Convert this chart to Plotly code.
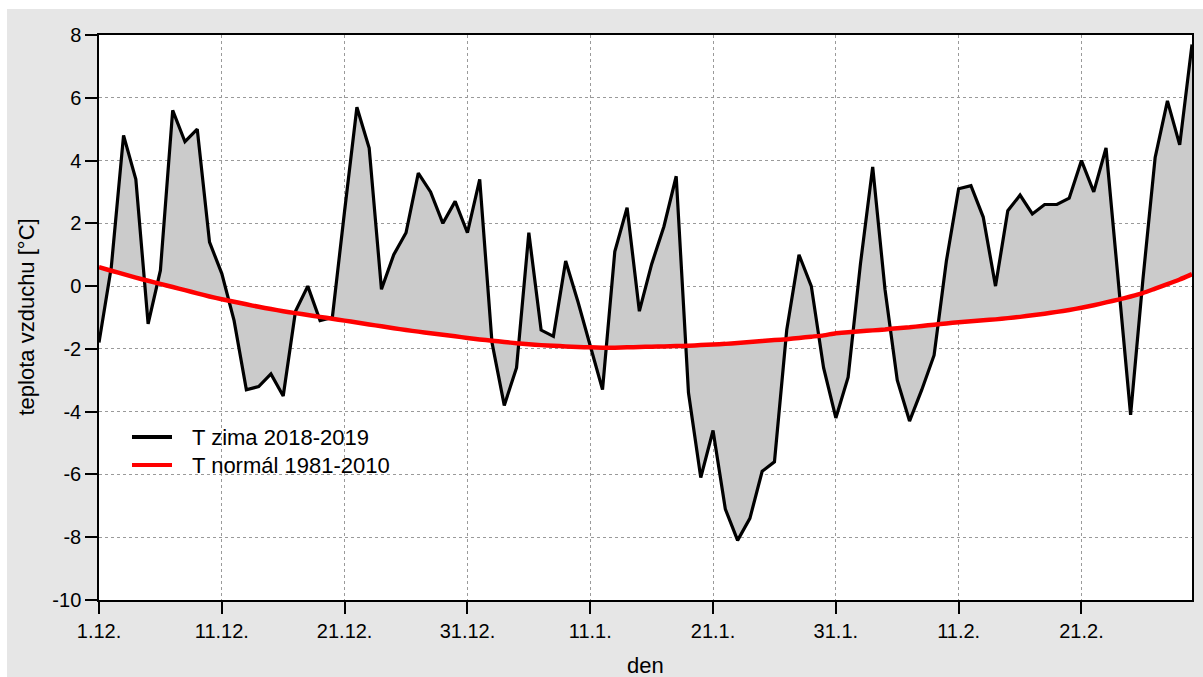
import plotly.graph_objects as go

# day index (1 = 1.12.2018 ... 90 = 28.2.2019)
days = list(range(1, 91))

t_winter = [
    -1.8, 0.6, 4.8, 3.4, -1.2, 0.5, 5.6, 4.6, 5.0, 1.4,
    0.4, -1.1, -3.3, -3.2, -2.8, -3.5, -0.8, 0.0, -1.1, -1.0,
    2.4, 5.7, 4.4, -0.1, 1.0, 1.7, 3.6, 3.0, 2.0, 2.7,
    1.7, 3.4, -1.8, -3.8, -2.6, 1.7, -1.4, -1.6, 0.8, -0.5,
    -1.9, -3.3, 1.1, 2.5, -0.8, 0.7, 1.9, 3.5, -3.4, -6.1,
    -4.6, -7.1, -8.1, -7.4, -5.9, -5.6, -1.4, 1.0, 0.0, -2.6,
    -4.2, -2.9, 0.7, 3.8, -0.1, -3.0, -4.3, -3.3, -2.2, 0.8,
    3.1, 3.2, 2.2, 0.0, 2.4, 2.9, 2.3, 2.6, 2.6, 2.8,
    4.0, 3.0, 4.4, 0.1, -4.1, 0.2, 4.1, 5.9, 4.5, 7.7,
]

t_normal = [
    0.60, 0.49, 0.38, 0.27, 0.17, 0.07, -0.03, -0.13, -0.23, -0.33,
    -0.42, -0.50, -0.58, -0.66, -0.73, -0.80, -0.86, -0.92, -0.98, -1.04,
    -1.10, -1.16, -1.22, -1.28, -1.34, -1.40, -1.45, -1.50, -1.55, -1.60,
    -1.65, -1.70, -1.74, -1.78, -1.82, -1.85, -1.88, -1.90, -1.92, -1.94,
    -1.95, -1.96, -1.96, -1.95, -1.94, -1.93, -1.92, -1.91, -1.90, -1.88,
    -1.86, -1.84, -1.81, -1.78, -1.75, -1.72, -1.69, -1.65, -1.61, -1.57,
    -1.50, -1.47, -1.44, -1.41, -1.38, -1.34, -1.31, -1.27, -1.23, -1.19,
    -1.15, -1.12, -1.09, -1.06, -1.02, -0.98, -0.93, -0.88, -0.82, -0.76,
    -0.69, -0.61, -0.52, -0.43, -0.33, -0.22, -0.08, 0.06, 0.21, 0.38,
]

x_tickvals = [1, 11, 21, 31, 41, 51, 61, 71, 81]
x_ticktext = ["1.12.", "11.12.", "21.12.", "31.12.", "11.1.", "21.1.", "31.1.", "11.2.", "21.2."]
y_tickvals = [-10, -8, -6, -4, -2, 0, 2, 4, 6, 8]
y_ticktext = ["-10", "-8", "-6", "-4", "-2", "0", "2", "4", "6", "8"]

series_names = ["T zima 2018-2019", "T normál 1981-2010"]
series_colors = ["black", "#ff0000"]
x_title = "den"
y_title = "teplota vzduchu [°C]"

FONT = "Liberation Sans, Arial, sans-serif"

# layout geometry (pixels)
W, H = 1203, 677
ML, MR, MT, MB = 99, 11, 35, 77
PW, PH = W - ML - MR, H - MT - MB


def px_x(p):
    return (p - ML) / PW


def px_y(p):
    return (H - MB - p) / PH


fig = go.Figure()
# baseline for the fill (invisible)
fig.add_trace(go.Scatter(x=days, y=t_normal, mode="lines", line=dict(width=0, color="red"),
                         showlegend=False, hoverinfo="skip"))
fig.add_trace(go.Scatter(x=days, y=t_winter, mode="lines", name=series_names[0],
                         line=dict(color=series_colors[0], width=3.2), fill="tonexty",
                         fillcolor="#cbcbcb", showlegend=False))
fig.add_trace(go.Scatter(x=days, y=t_normal, mode="lines", name=series_names[1],
                         line=dict(color=series_colors[1], width=4.5, shape="spline", smoothing=0.6),
                         showlegend=False))

shapes = [
    dict(type="rect", xref="paper", yref="paper", x0=-0.2, x1=px_x(7),
         y0=-0.3, y1=1.3, fillcolor="white", line=dict(width=0), layer="below"),
    dict(type="rect", xref="paper", yref="paper", x0=-0.2, x1=1.2,
         y0=px_y(9), y1=1.3, fillcolor="white", line=dict(width=0), layer="below"),
]
annotations = []
legend_rows = [437, 465]
for name, col, ry in zip(series_names, series_colors, legend_rows):
    shapes.append(dict(type="line", xref="paper", yref="paper", x0=px_x(132), x1=px_x(172),
                       y0=px_y(ry), y1=px_y(ry), line=dict(color=col, width=4), layer="above"))
    annotations.append(dict(text=name, xref="paper", yref="paper", x=px_x(190), y=px_y(ry),
                            xanchor="left", yanchor="middle", showarrow=False,
                            font=dict(size=22, family=FONT, color="black")))

# axis titles
annotations.append(dict(text=x_title, xref="paper", yref="paper", x=0.5, y=px_y(665),
                        xanchor="center", yanchor="middle", showarrow=False,
                        font=dict(size=22, family=FONT, color="black")))
annotations.append(dict(text=y_title, xref="paper", yref="paper", x=px_x(26), y=0.5,
                        xanchor="center", yanchor="middle", showarrow=False, textangle=-90,
                        font=dict(size=22, family=FONT, color="black")))

fig.update_layout(
    width=W, height=H,
    margin=dict(l=ML, r=MR, t=MT, b=MB, pad=0, autoexpand=False),
    paper_bgcolor="#e6e6e6",
    plot_bgcolor="white",
    font=dict(family=FONT, size=20, color="black"),
    showlegend=False,
    shapes=shapes,
    annotations=annotations,
)

fig.update_xaxes(
    range=[1, 90], tickvals=x_tickvals, ticktext=x_ticktext, automargin=False,
    showline=True, mirror=True, linecolor="black", linewidth=1.5,
    ticks="outside", ticklen=12, tickwidth=1.5, tickcolor="black",
    showgrid=True, gridcolor="#9a9a9a", griddash="dot", gridwidth=1.2,
    zeroline=False, tickfont=dict(size=20),
)
fig.update_yaxes(
    range=[-10, 8], tickvals=y_tickvals, ticktext=y_ticktext, automargin=False,
    showline=True, mirror=True, linecolor="black", linewidth=1.5,
    ticks="outside", ticklen=12, tickwidth=1.5, tickcolor="black",
    showgrid=True, gridcolor="#9a9a9a", griddash="dot", gridwidth=1.2,
    zeroline=False, tickfont=dict(size=20),
)

fig.write_html("out.html")
